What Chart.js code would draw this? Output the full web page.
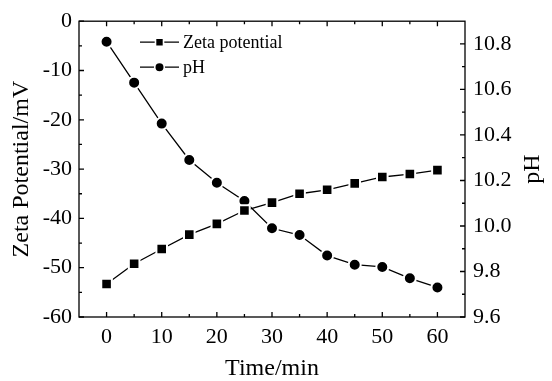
<!DOCTYPE html>
<html>
<head>
<meta charset="utf-8">
<script src="https://cdn.jsdelivr.net/npm/chart.js@4.4.1/dist/chart.umd.min.js"></script>
<style>
  html, body { margin: 0; padding: 0; background: #fff; }
  #wrap { width: 552px; height: 381px; }
</style>
</head>
<body>
<div id="wrap"><canvas id="zetaChart"></canvas></div>
<script>
const times = [0, 5, 10, 15, 20, 25, 30, 35, 40, 45, 50, 55, 60];
const zeta = [-53.3, -49.2, -46.2, -43.3, -41.1, -38.4, -36.8, -35.0, -34.2, -32.9, -31.6, -31.0, -30.2];
const ph = [10.81, 10.63, 10.45, 10.29, 10.19, 10.11, 9.99, 9.96, 9.87, 9.83, 9.82, 9.77, 9.73];

const timeTicks = [0, 10, 20, 30, 40, 50, 60];
const zetaTicks = [-60, -50, -40, -30, -20, -10, 0];
const phTicks = [9.6, 9.8, 10.0, 10.2, 10.4, 10.6, 10.8];

const serif = "'Liberation Serif', 'Times New Roman', serif";

// midpoints between major ticks -> minor ticks
const minorOf = (ticks) => ticks.slice(1).map((v, i) => (v + ticks[i]) / 2);

const setTicks = (list) => (scale) => { scale.ticks = list.map(v => ({ value: v })); };

// box frame, inward ticks, legend and right title
const frame = {
    id: 'frame',
    afterDraw(chart) {
        const { ctx, chartArea: a, scales } = chart;
        ctx.save();
        ctx.strokeStyle = '#000';
        ctx.lineWidth = 1.3;
        ctx.strokeRect(a.left, a.top, a.right - a.left, a.bottom - a.top);

        const major = 5, minor = 3;
        ctx.beginPath();
        const xt = (vals, len) => vals.forEach(v => {
            const px = scales.x.getPixelForValue(v);
            ctx.moveTo(px, a.bottom); ctx.lineTo(px, a.bottom - len);
            ctx.moveTo(px, a.top); ctx.lineTo(px, a.top + len);
        });
        xt(timeTicks, major);
        xt(minorOf(timeTicks), minor);
        const yt = (scale, vals, len, left) => vals.forEach(v => {
            const py = scale.getPixelForValue(v);
            const x0 = left ? a.left : a.right;
            ctx.moveTo(x0, py); ctx.lineTo(left ? x0 + len : x0 - len, py);
        });
        yt(scales.y, zetaTicks, major, true);
        yt(scales.y, minorOf(zetaTicks), minor, true);
        yt(scales.y1, phTicks, major, false);
        yt(scales.y1, minorOf(phTicks), minor, false);
        ctx.stroke();

        // legend
        ctx.font = '18px ' + serif;
        ctx.textBaseline = 'middle';
        ctx.fillStyle = '#000';
        chart.data.datasets.forEach((ds, i) => {
            const y = a.top + 21 + i * 25;
            const x0 = a.left + 61, x1 = a.left + 100, xm = (x0 + x1) / 2;
            ctx.beginPath();
            ctx.lineWidth = 1.3;
            ctx.moveTo(x0, y); ctx.lineTo(x1, y);
            ctx.stroke();
            ctx.beginPath();
            if (ds.pointStyle === 'rect') ctx.rect(xm - 4, y - 4, 8, 8);
            else ctx.arc(xm, y, 4.8, 0, Math.PI * 2);
            ctx.fillStyle = '#000';
            ctx.fill();
            ctx.lineWidth = 1.6;
            ctx.strokeStyle = '#fff';
            ctx.stroke();
            ctx.strokeStyle = '#000';
            ctx.fillText(ds.label, x1 + 4, y + 1);
        });

        // right axis title, rotated like the left one
        ctx.font = '24px ' + serif;
        ctx.textAlign = 'center';
        ctx.translate(533, (a.top + a.bottom) / 2);
        ctx.rotate(-Math.PI / 2);
        ctx.fillText('pH', 0, 0);
        ctx.restore();
    }
};

const ctx = document.getElementById('zetaChart');

new Chart(ctx, {
    type: 'line',
    data: {
        datasets: [{
            label: 'Zeta potential',
            data: times.map((t, i) => ({ x: t, y: zeta[i] })),
            yAxisID: 'y',
            borderColor: '#000',
            borderWidth: 1.3,
            backgroundColor: '#000',
            pointStyle: 'rect',
            pointRadius: 7.5,
            pointHoverRadius: 7.5,
            pointBorderColor: '#fff',
            pointBorderWidth: 2,
            pointBackgroundColor: '#000'
        }, {
            label: 'pH',
            data: times.map((t, i) => ({ x: t, y: ph[i] })),
            yAxisID: 'y1',
            borderColor: '#000',
            borderWidth: 1.3,
            backgroundColor: '#000',
            pointStyle: 'circle',
            pointRadius: 6,
            pointHoverRadius: 6,
            pointBorderColor: '#fff',
            pointBorderWidth: 2,
            pointBackgroundColor: '#000'
        }]
    },
    options: {
        responsive: true,
        maintainAspectRatio: false,
        animation: false,
        layout: { padding: { top: 19, left: 0, right: 0, bottom: 0 } },
        scales: {
            x: {
                type: 'linear',
                min: -5,
                max: 65,
                afterBuildTicks: setTicks(timeTicks),
                afterFit: (s) => { s.height = 64; },
                grid: { display: false, drawTicks: false },
                border: { display: false },
                ticks: { color: '#000', padding: 7, font: { family: serif, size: 22 } },
                title: {
                    display: true,
                    text: 'Time/min',
                    color: '#000',
                    font: { family: serif, size: 24, lineHeight: 1 },
                    padding: { top: 0, bottom: 0 }
                }
            },
            y: {
                position: 'left',
                min: -60,
                max: 0,
                afterBuildTicks: setTicks(zetaTicks),
                afterFit: (s) => { s.width = 79; },
                grid: { display: false, drawTicks: false },
                border: { display: false },
                ticks: { color: '#000', padding: 7, font: { family: serif, size: 22 } },
                title: {
                    display: true,
                    text: 'Zeta Potential/mV',
                    color: '#000',
                    font: { family: serif, size: 24, lineHeight: 1 },
                    padding: { top: 10, bottom: 0 }
                }
            },
            y1: {
                position: 'right',
                min: 9.6,
                max: 10.9,
                afterBuildTicks: setTicks(phTicks),
                afterFit: (s) => { s.width = 87; },
                grid: { display: false, drawTicks: false },
                border: { display: false },
                ticks: {
                    color: '#000',
                    padding: 8,
                    font: { family: serif, size: 22 },
                    callback: (v) => v.toFixed(1)
                }
            }
        },
        plugins: {
            legend: { display: false },
            tooltip: { enabled: false }
        }
    },
    plugins: [frame]
});
</script>
</body>
</html>
